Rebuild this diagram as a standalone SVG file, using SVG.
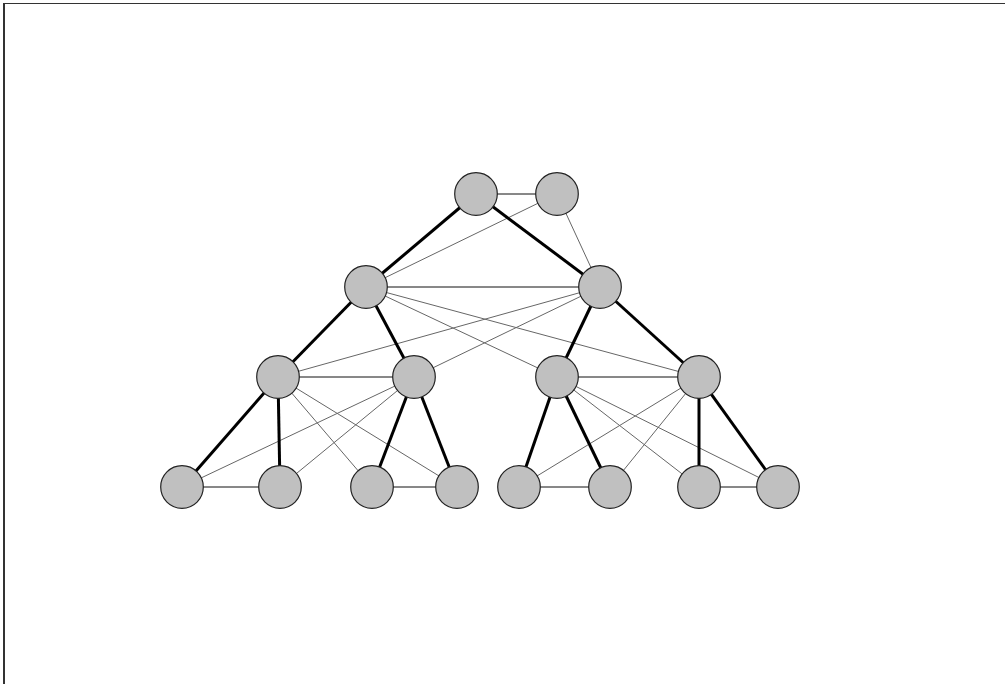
<svg xmlns="http://www.w3.org/2000/svg" width="1005" height="684" viewBox="0 0 1005 684">
<style>
.tree{stroke:#000;stroke-width:3;fill:none}
.sib{stroke:#111;stroke-width:1;fill:none}
.cross{stroke:#666;stroke-width:1;fill:none}
.node circle{fill:#c0c0c0;stroke:#222;stroke-width:1.2}
.frame{stroke:#333;fill:none}
</style>
<rect width="1005" height="684" fill="#fff"/>
<line class="frame" x1="3" y1="3.5" x2="1005" y2="3.5" stroke-width="1"/>
<line class="frame" x1="4" y1="3" x2="4" y2="684" stroke-width="2"/>
<g id="connectors">
<line class="cross" x1="557" y1="194" x2="366" y2="287"/>
<line class="cross" x1="557" y1="194" x2="600" y2="287"/>
<line class="cross" x1="366" y1="287" x2="557" y2="377"/>
<line class="cross" x1="366" y1="287" x2="699" y2="377"/>
<line class="cross" x1="600" y1="287" x2="278" y2="377"/>
<line class="cross" x1="600" y1="287" x2="414" y2="377"/>
<line class="cross" x1="278" y1="377" x2="372" y2="487"/>
<line class="cross" x1="278" y1="377" x2="457" y2="487"/>
<line class="cross" x1="414" y1="377" x2="182" y2="487"/>
<line class="cross" x1="414" y1="377" x2="280" y2="487"/>
<line class="cross" x1="557" y1="377" x2="699" y2="487"/>
<line class="cross" x1="557" y1="377" x2="778" y2="487"/>
<line class="cross" x1="699" y1="377" x2="519" y2="487"/>
<line class="cross" x1="699" y1="377" x2="610" y2="487"/>
<line class="sib" x1="476" y1="194" x2="557" y2="194"/>
<line class="sib" x1="366" y1="287" x2="600" y2="287"/>
<line class="sib" x1="278" y1="377" x2="414" y2="377"/>
<line class="sib" x1="557" y1="377" x2="699" y2="377"/>
<line class="sib" x1="182" y1="487" x2="280" y2="487"/>
<line class="sib" x1="372" y1="487" x2="457" y2="487"/>
<line class="sib" x1="519" y1="487" x2="610" y2="487"/>
<line class="sib" x1="699" y1="487" x2="778" y2="487"/>
<line class="tree" x1="476" y1="194" x2="366" y2="287"/>
<line class="tree" x1="476" y1="194" x2="600" y2="287"/>
<line class="tree" x1="366" y1="287" x2="278" y2="377"/>
<line class="tree" x1="366" y1="287" x2="414" y2="377"/>
<line class="tree" x1="600" y1="287" x2="557" y2="377"/>
<line class="tree" x1="600" y1="287" x2="699" y2="377"/>
<line class="tree" x1="278" y1="377" x2="182" y2="487"/>
<line class="tree" x1="278" y1="377" x2="280" y2="487"/>
<line class="tree" x1="414" y1="377" x2="372" y2="487"/>
<line class="tree" x1="414" y1="377" x2="457" y2="487"/>
<line class="tree" x1="557" y1="377" x2="519" y2="487"/>
<line class="tree" x1="557" y1="377" x2="610" y2="487"/>
<line class="tree" x1="699" y1="377" x2="699" y2="487"/>
<line class="tree" x1="699" y1="377" x2="778" y2="487"/>
</g>
<g id="nA" class="node"><circle cx="476" cy="194" r="21.3"/></g>
<g id="nB" class="node"><circle cx="557" cy="194" r="21.3"/></g>
<g id="nC" class="node"><circle cx="366" cy="287" r="21.3"/></g>
<g id="nD" class="node"><circle cx="600" cy="287" r="21.3"/></g>
<g id="nE" class="node"><circle cx="278" cy="377" r="21.3"/></g>
<g id="nF" class="node"><circle cx="414" cy="377" r="21.3"/></g>
<g id="nG" class="node"><circle cx="557" cy="377" r="21.3"/></g>
<g id="nH" class="node"><circle cx="699" cy="377" r="21.3"/></g>
<g id="nI" class="node"><circle cx="182" cy="487" r="21.3"/></g>
<g id="nJ" class="node"><circle cx="280" cy="487" r="21.3"/></g>
<g id="nK" class="node"><circle cx="372" cy="487" r="21.3"/></g>
<g id="nL" class="node"><circle cx="457" cy="487" r="21.3"/></g>
<g id="nM" class="node"><circle cx="519" cy="487" r="21.3"/></g>
<g id="nN" class="node"><circle cx="610" cy="487" r="21.3"/></g>
<g id="nO" class="node"><circle cx="699" cy="487" r="21.3"/></g>
<g id="nP" class="node"><circle cx="778" cy="487" r="21.3"/></g>
</svg>
